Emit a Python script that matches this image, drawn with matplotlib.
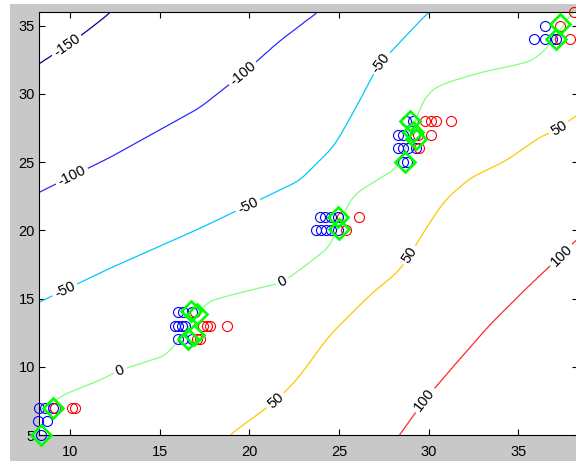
import numpy as np
import matplotlib
matplotlib.use('Agg')
import matplotlib.pyplot as plt
from matplotlib.patches import Rectangle

plt.rcParams['font.family'] = ['Liberation Sans', 'DejaVu Sans']

# ---- contour levels and traced contour paths (x, y) ----
levels = [-150, -100, -50, 0, 50, 100]
level_colors = ['#00008f', '#2a2aff', '#00c8ff', '#80ff80', '#ffc800', '#ff2a2a']

c_m150_x = [7.2, 8.27, 9.82, 11.1, 12.23, 14.0]
c_m150_y = [31.3, 32.21, 33.53, 34.77, 35.94, 38.5]
c_m100_x = [7.2, 8.27, 12.23, 17.24, 19.64, 21.7, 23.76, 25.5]
c_m100_y = [22.0, 22.78, 25.34, 28.99, 31.48, 33.9, 35.94, 38.0]
c_m50_x = [7.2, 8.27, 12.23, 17.24, 19.92, 22.81, 24.76, 26.16, 27.16, 29.89, 31.5]
c_m50_y = [14.0, 14.73, 17.22, 20.14, 21.82, 23.65, 26.21, 29.5, 32.07, 35.87, 37.5]
c_0_x = [7.2, 8.27, 9.61, 11.67, 12.79, 15.39, 16.69, 17.62, 18.91, 20.03, 21.87,
         23.37, 24.58, 25.32, 25.77, 27.27, 28.27, 28.94, 29.39, 30.06, 31.0,
         32.84, 34.68, 35.79, 36.74, 37.3, 37.86, 38.6]
c_0_y = [5.9, 6.68, 7.93, 9.02, 9.75, 10.85, 13.05, 14.75, 15.24, 15.61, 16.19,
         17.66, 18.9, 21.46, 22.56, 23.8, 24.6, 26.58, 28.77, 30.24, 30.82,
         31.55, 32.07, 32.43, 33.53, 34.63, 35.72, 36.9]
c_50_x = [18.0, 18.91, 20.96, 21.48, 22.63, 24.48, 26.71, 28.38, 28.94, 29.78,
          30.89, 32.28, 34.33, 36.18, 37.3, 38.19, 39.5]
c_50_y = [3.5, 5.0, 6.98, 7.49, 9.02, 12.32, 15.24, 17.07, 18.17, 20.0,
          22.19, 23.8, 25.12, 26.82, 27.46, 28.41, 29.14]
c_100_x = [27.3, 28.38, 29.78, 31.45, 33.4, 35.63, 37.41, 38.19, 39.5]
c_100_y = [3.0, 5.0, 7.56, 10.12, 13.05, 15.97, 18.17, 19.26, 20.58]

contour_paths = [(c_m150_x, c_m150_y), (c_m100_x, c_m100_y), (c_m50_x, c_m50_y),
                 (c_0_x, c_0_y), (c_50_x, c_50_y), (c_100_x, c_100_y)]

# contour label positions
label_x = [9.82, 19.64, 10.17, 9.72, 19.92, 27.16, 12.79, 21.87, 21.51, 28.94, 37.3, 29.78, 37.4]
label_y = [33.53, 31.48, 23.8, 15.6, 21.82, 32.43, 9.75, 16.19, 7.44, 18.17, 27.46, 7.56, 18.17]

# ---- scatter data ----
blue_x = [8.29, 8.6, 9.07, 8.23, 8.7, 8.37,
          16.03, 16.31, 16.83, 15.85, 16.03, 16.22, 16.4, 16.03, 16.31, 16.78,
          23.93, 24.2, 24.58, 24.95, 23.74, 24.02, 24.3, 24.58, 24.95,
          28.76, 29.12, 28.29, 28.57, 29.22, 28.29, 28.57, 28.85, 29.31, 28.57, 28.81,
          36.46, 35.9, 36.46, 36.9, 37.1]
blue_y = [7, 7, 7, 6, 6, 5,
          14, 14, 14, 13, 13, 13, 13, 12, 12, 12,
          21, 21, 21, 21, 20, 20, 20, 20, 20,
          28, 28, 27, 27, 27, 26, 26, 26, 26, 25, 25,
          35, 34, 34, 34, 34]
red_x = [9.16, 10.1, 10.3,
         16.96, 17.43, 17.62, 17.8, 18.78, 17.06, 17.24,
         25.14, 26.12, 25.41,
         29.78, 30.15, 30.43, 31.26, 29.4, 30.15, 29.45,
         37.3, 37.3, 37.86, 38.13]
red_y = [7, 7, 7,
         14, 13, 13, 13, 13, 12, 12,
         21, 21, 20,
         28, 28, 28, 28, 27, 27, 26,
         35, 34, 34, 36]
green_x = [9.07, 8.37, 16.75, 17.06, 16.6, 16.9, 24.95, 25.0, 28.94, 29.1, 29.3, 28.7, 37.3, 37.1]
green_y = [7.0, 5.0, 14.1, 13.9, 12.0, 12.3, 21.0, 20.1, 28.0, 27.2, 26.7, 25.0, 35.1, 34.0]

x_ticks = [10, 15, 20, 25, 30, 35]
y_ticks = [5, 10, 15, 20, 25, 30, 35]
xlim = (8.27, 38.3)
ylim = (5, 36)

# ---- build a field whose level sets follow the (lightly smoothed) traced contours ----
xf = np.linspace(6.0, 41.0, 1401)
dx = xf[1] - xf[0]
win = int(round(0.9 / dx)) | 1
kern = np.ones(win) / win
smooth_paths = []
for px, py in contour_paths:
    yf = np.interp(xf, px, py)
    yp = np.pad(yf, win // 2, mode='edge')
    smooth_paths.append(np.convolve(yp, kern, mode='valid'))

xg = np.linspace(xlim[0], xlim[1], 500)
yg = np.linspace(ylim[0], ylim[1], 500)
Z = np.empty((yg.size, xg.size))
lv = np.array(levels, dtype=float)
for j, xv in enumerate(xg):
    ys = np.array([np.interp(xv, xf, sp) for sp in smooth_paths])
    order = np.argsort(ys)
    yy = np.concatenate([[-1000.0], ys[order], [1000.0]])
    vv = np.concatenate([[1e4], lv[order], [-1e4]])
    Z[:, j] = np.interp(yg, yy, vv)
X, Y = np.meshgrid(xg, yg)

# ---- figure ----
W, H = 576, 461
fig = plt.figure(figsize=(W / 100, H / 100), dpi=100, facecolor='white')
fig.patches.append(Rectangle((10 / W, 0), 1, (H - 4) / H, transform=fig.transFigure,
                             facecolor='#c8c8c8', edgecolor='none', zorder=-10))
ax = fig.add_axes([39 / W, (H - 435) / H, (577.5 - 39) / W, (435 - 12) / H])
ax.set_facecolor('white')

cs = ax.contour(X, Y, Z, levels=levels, colors=level_colors, linewidths=0.9)
ax.clabel(cs, fmt='%d', fontsize=10.5, colors='black', inline=True, inline_spacing=3,
          manual=list(zip(label_x, label_y)))

ax.plot(blue_x, blue_y, 'o', mfc='none', mec='#0000ff', ms=7.2, mew=0.8, clip_on=False, zorder=3)
ax.plot(red_x, red_y, 'o', mfc='none', mec='#ff0000', ms=7.2, mew=0.8, clip_on=False, zorder=4)
ax.plot(green_x, green_y, 'D', mfc='none', mec='#00ff00', ms=10.2, mew=1.9, clip_on=False, zorder=5)

ax.set_xlim(*xlim)
ax.set_ylim(*ylim)
ax.set_xticks(x_ticks)
ax.set_yticks(y_ticks)
ax.tick_params(direction='in', length=4, width=0.8, top=True, right=True,
               labelsize=10.5, colors='black')
ax.tick_params(axis='x', pad=7)
ax.tick_params(axis='y', pad=3)
for s in ax.spines.values():
    s.set_color('black')
    s.set_linewidth(0.8)

fig.savefig('out.png', dpi=100, facecolor=fig.get_facecolor())
